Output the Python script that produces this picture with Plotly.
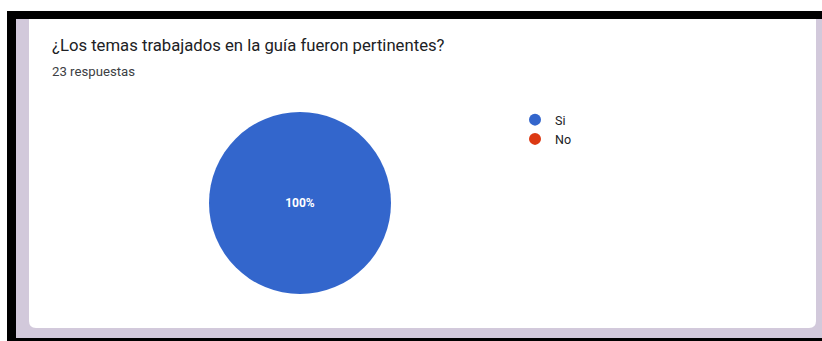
import plotly.graph_objects as go

W, H = 822, 341

categories = ["Si", "No"]
counts = [23, 0]
colors = ["#3366cc", "#dc3912"]
title_text = "¿Los temas trabajados en la guía fueron pertinentes?"
subtitle_text = "23 respuestas"

def px(x):
    return x / W

def py(y):
    return 1 - y / H

fig = go.Figure()

fig.add_trace(go.Pie(
    labels=categories,
    values=counts,
    marker=dict(colors=colors, line=dict(width=0)),
    textinfo="percent",
    textposition="inside",
    texttemplate="<b>%{percent}</b>",
    insidetextfont=dict(color="white", size=12, family="Roboto"),
    sort=False,
    direction="clockwise",
    showlegend=False,
    domain=dict(x=[px(209), px(391)], y=[py(294), py(112)]),
    hoverinfo="label+percent",
))

# legend entries with circular markers
for c, col in zip(categories, colors):
    fig.add_trace(go.Scatter(
        x=[None], y=[None], mode="markers", name=c,
        marker=dict(color=col, size=12, symbol="circle"),
        showlegend=True,
    ))

shapes = []
# black frame parts
shapes.append(dict(type="rect", xref="paper", yref="paper",
                   x0=px(7), x1=px(822), y0=py(19), y1=py(11),
                   fillcolor="#000000", line=dict(width=0), layer="below"))
shapes.append(dict(type="rect", xref="paper", yref="paper",
                   x0=px(7), x1=px(16), y0=py(341), y1=py(11),
                   fillcolor="#000000", line=dict(width=0), layer="below"))
shapes.append(dict(type="rect", xref="paper", yref="paper",
                   x0=px(7), x1=px(822), y0=py(341), y1=py(338),
                   fillcolor="#000000", line=dict(width=0), layer="below"))
# lavender background
shapes.append(dict(type="rect", xref="paper", yref="paper",
                   x0=px(16), x1=px(822), y0=py(338), y1=py(19),
                   fillcolor="#d2c9db", line=dict(width=0), layer="below"))
# white card with rounded bottom corners
r = 7
x0c, x1c, y0c, y1c = 29, 816, 19, 328
path = (f"M {px(x0c)},{py(y0c)} L {px(x1c)},{py(y0c)} "
        f"L {px(x1c)},{py(y1c - r)} Q {px(x1c)},{py(y1c)} {px(x1c - r)},{py(y1c)} "
        f"L {px(x0c + r)},{py(y1c)} Q {px(x0c)},{py(y1c)} {px(x0c)},{py(y1c - r)} Z")
shapes.append(dict(type="path", xref="paper", yref="paper", path=path,
                   fillcolor="#ffffff", line=dict(width=0), layer="below"))

annotations = [
    dict(text=title_text, xref="paper", yref="paper", x=px(50), y=py(45),
         xanchor="left", yanchor="middle", showarrow=False,
         font=dict(family="Roboto", size=16.7, color="#202124")),
    dict(text=subtitle_text, xref="paper", yref="paper", x=px(50), y=py(71),
         xanchor="left", yanchor="middle", showarrow=False,
         font=dict(family="Roboto", size=13.2, color="#3c4043")),
]

fig.update_layout(
    width=W, height=H,
    margin=dict(l=0, r=0, t=0, b=0),
    paper_bgcolor="#ffffff",
    plot_bgcolor="rgba(0,0,0,0)",
    shapes=shapes,
    annotations=annotations,
    xaxis=dict(visible=False, range=[0, 1]),
    yaxis=dict(visible=False, range=[0, 1]),
    legend=dict(x=px(515), y=py(105), xanchor="left", yanchor="top",
                font=dict(family="Roboto", size=12.5, color="#202124"),
                bgcolor="rgba(0,0,0,0)", itemsizing="constant",
                tracegroupgap=0),
    showlegend=True,
)

fig.write_html("out.html")
